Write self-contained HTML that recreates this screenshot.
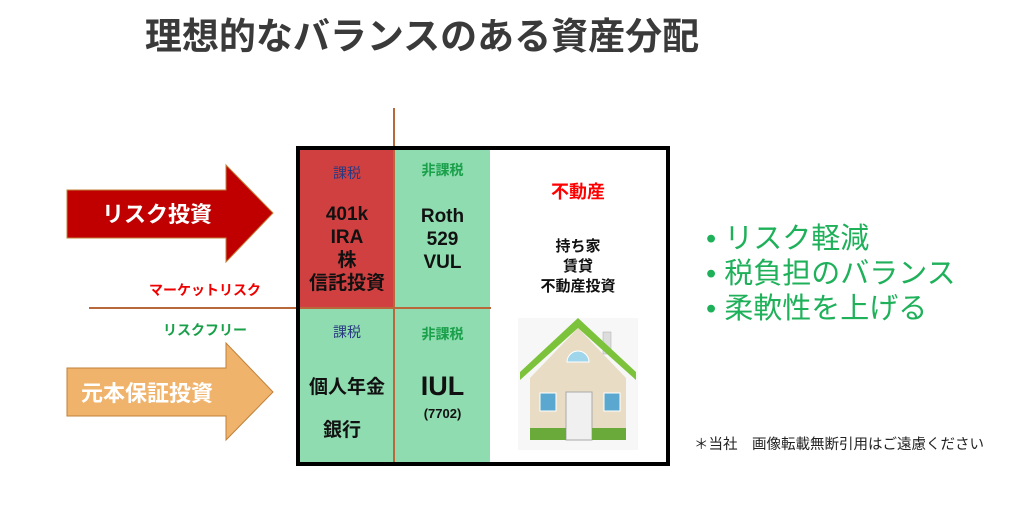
<!DOCTYPE html>
<html><head><meta charset="utf-8"><style>
body{margin:0;width:1024px;height:524px;background:#fff;position:relative;overflow:hidden;font-family:"Liberation Sans","Noto Sans CJK JP",sans-serif}
.a{position:absolute}
.t{position:absolute;text-align:center;font-weight:bold}
</style></head><body>
<div class="a" style="left:0;top:6px;width:844px;text-align:center;font-size:37px;font-weight:bold;color:#3a3a3a">理想的なバランスのある資産分配</div>

<svg class="a" style="left:0;top:0" width="1024" height="524">
<polygon points="67,190 226,190 226,165 273,213 226,262 226,238 67,238" fill="#c00000" stroke="#c0803a" stroke-width="1"/>
<polygon points="67,368 226,368 226,343 273,392 226,440 226,416 67,416" fill="#f0b36c" stroke="#c0803a" stroke-width="1"/>
<rect x="299" y="149" width="96" height="159" fill="#d04040"/>
<rect x="395" y="149" width="95" height="313" fill="#8edcb0"/>
<rect x="299" y="308" width="96" height="154" fill="#8edcb0"/>
<line x1="394" y1="108" x2="394" y2="462" stroke="#b8683a" stroke-width="2"/>
<line x1="89" y1="308" x2="491" y2="308" stroke="#b8683a" stroke-width="2"/>
<rect x="298" y="148" width="370" height="316" fill="none" stroke="#000" stroke-width="4"/>
<rect x="518" y="318" width="120" height="132" fill="#f7f7f7"/>
<rect x="603" y="332" width="8" height="22" fill="#ddd" stroke="#aaa" stroke-width="0.5"/>
<polygon points="530,378 578,328 626,378 626,440 530,440" fill="#e8dcc4"/>
<polygon points="520,372 578,318 636,372 636,380 578,328 520,380" fill="#7cc23a"/>
<path d="M567,362 a11,11 0 0 1 22,0 z" fill="#9fd6ec" stroke="#fff"/>
<rect x="540" y="393" width="16" height="18" fill="#5aa8cf" stroke="#fff"/>
<rect x="604" y="393" width="16" height="18" fill="#5aa8cf" stroke="#fff"/>
<rect x="566" y="392" width="26" height="48" fill="#f0f0f0" stroke="#aaa"/>
<rect x="530" y="428" width="36" height="12" fill="#6aaa3a"/>
<rect x="592" y="428" width="34" height="12" fill="#6aaa3a"/>
</svg>

<div class="t" style="left:67px;top:197px;width:180px;font-size:22px;color:#fff">リスク投資</div>
<div class="t" style="left:67px;top:376px;width:160px;font-size:22px;color:#fff">元本保証投資</div>
<div class="t" style="left:140px;top:280px;width:130px;font-size:14px;color:#e00">マーケットリスク</div>
<div class="t" style="left:150px;top:320px;width:110px;font-size:14px;color:#1aa04a">リスクフリー</div>

<div class="t" style="left:299px;top:163px;width:96px;font-size:14px;color:#2a3a80;font-weight:normal">課税</div>
<div class="t" style="left:299px;top:203px;width:96px;font-size:19px;line-height:23px;color:#111">401k<br>IRA<br>株<br>信託投資</div>
<div class="t" style="left:395px;top:160px;width:95px;font-size:14px;color:#1aa04a">非課税</div>
<div class="t" style="left:395px;top:205px;width:95px;font-size:19px;line-height:23px;color:#111">Roth<br>529<br>VUL</div>
<div class="t" style="left:299px;top:322px;width:96px;font-size:14px;color:#2a3a80;font-weight:normal">課税</div>
<div class="t" style="left:299px;top:372px;width:96px;font-size:19px;color:#111">個人年金</div>
<div class="t" style="left:299px;top:415px;width:86px;font-size:19px;color:#111">銀行</div>
<div class="t" style="left:395px;top:324px;width:95px;font-size:14px;color:#1aa04a">非課税</div>
<div class="t" style="left:395px;top:371px;width:95px;font-size:27px;color:#111">IUL</div>
<div class="t" style="left:395px;top:406px;width:95px;font-size:13px;color:#111">(7702)</div>
<div class="t" style="left:490px;top:178px;width:176px;font-size:18px;color:#f00">不動産</div>
<div class="t" style="left:490px;top:237px;width:176px;font-size:15px;line-height:20px;color:#111">持ち家<br>賃貸<br>不動産投資</div>

<div class="a" style="left:706px;top:222px;font-size:29px;line-height:35px;color:#1fb05a">• リスク軽減<br>• 税負担のバランス<br>• 柔軟性を上げる</div>
<div class="a" style="left:694px;top:433px;font-size:14.5px;color:#222">＊当社　画像転載無断引用はご遠慮ください</div>
</body></html>
